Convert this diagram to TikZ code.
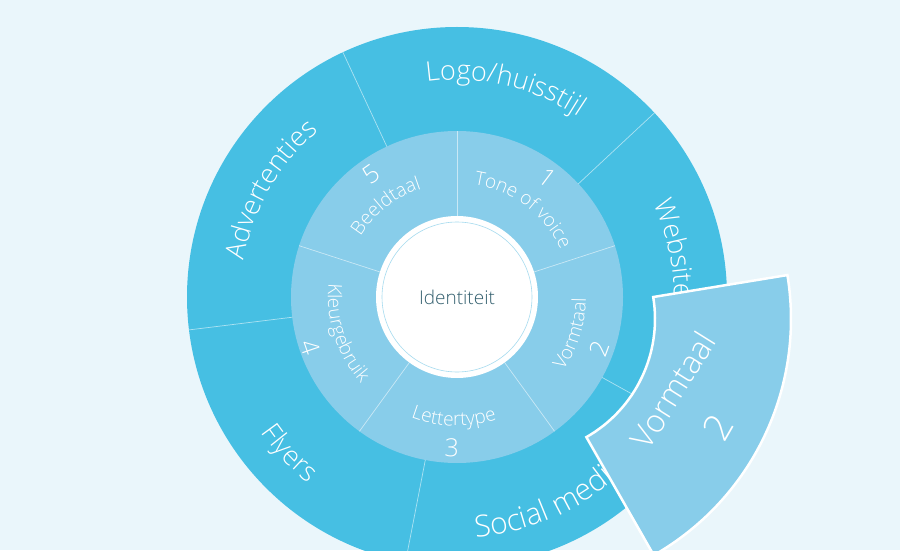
\documentclass[tikz,border=0pt]{standalone}
\usepackage{fontspec}
\IfFontExistsTF{Open Sans Light}{\setmainfont{Open Sans Light}}{\setmainfont{Open Sans}}
\usetikzlibrary{decorations.text}

\definecolor{pagebg}{HTML}{EAF6FB}
\definecolor{outerring}{HTML}{46BFE3}
\definecolor{middlering}{HTML}{88CDEA}
\definecolor{centertext}{HTML}{34606F}
\definecolor{thinring}{HTML}{A6DBEF}

\newcommand{\outerlabelfont}{\fontsize{27}{31}\selectfont}
\newcommand{\innerlabelfont}{\fontsize{19}{22}\selectfont}
\newcommand{\numberfont}{\fontsize{25}{28}\selectfont}
\newcommand{\centerfont}{\fontsize{19}{22}\selectfont}

\begin{document}
\begin{tikzpicture}[x=1pt, y=1pt,
    segline/.style={white, opacity=0.55, line width=0.7pt},
    arclabel/.style={decorate, decoration={text along path, text align=center,
        text color=white, text={#1}}},
    numlabel/.style={text=white, font=\numberfont, inner sep=0pt}]

    % Background of the picture
    \fill[pagebg] (0,0) rectangle (900,550);
    \useasboundingbox (0,0) rectangle (900,550);
    \clip (0,0) rectangle (900,550);

    % Define the center of the rings
    \coordinate (O) at (457,253);
    % Define the apex of the pulled-out segment
    \coordinate (P) at (519,231);

    % Draw the outer ring and the middle ring
    \fill[outerring] (O) circle[radius=270pt];
    \fill[middlering] (O) circle[radius=166pt];

    % Draw the borders between the outer segments
    \begin{scope}[shift={(O)}]
        \draw[segline] (115:166pt) -- (115:270pt);
        \draw[segline] (43:166pt) -- (43:270pt);
        \draw[segline] (-29:166pt) -- (-29:270pt);
        \draw[segline] (-101:166pt) -- (-101:270pt);
        \draw[segline] (187:166pt) -- (187:270pt);

        % Draw the borders between the middle segments
        \draw[segline] (90:81pt) -- (90:166pt);
        \draw[segline] (18:81pt) -- (18:166pt);
        \draw[segline] (-54:81pt) -- (-54:166pt);
        \draw[segline] (-126:81pt) -- (-126:166pt);
        \draw[segline] (162:81pt) -- (162:166pt);
    \end{scope}

    % Draw the white center with its thin inner circle
    \fill[white] (O) circle[radius=81pt];
    \draw[thinring, line width=0.6pt] (O) circle[radius=75pt];
    \node[font=\centerfont, text=centertext] (identiteit) at (O) {Identiteit};

    % Add the labels of the outer segments
    \begin{scope}[shift={(O)}]
        \path[arclabel={|\outerlabelfont|Logo/huisstijl}]
            (117:217pt) arc[start angle=117, end angle=37, radius=217pt];
        \path[arclabel={|\outerlabelfont|Advertenties}]
            (190:216pt) arc[start angle=190, end angle=110, radius=216pt];
        \path[arclabel={|\outerlabelfont|Website}]
            (52.5:217pt) arc[start angle=52.5, end angle=-27.5, radius=217pt];
        \path[arclabel={|\fontsize{30}{34}\selectfont|Social media}]
            (-105.5:241pt) arc[start angle=-105.5, end angle=-25.5, radius=241pt];
        \path[arclabel={|\outerlabelfont|Flyers}]
            (-177:238pt) arc[start angle=-177, end angle=-97, radius=238pt];

        % Add the labels of the middle segments
        \path[arclabel={|\innerlabelfont|Tone of voice}]
            (98:114pt) arc[start angle=98, end angle=8, radius=114pt];
        \path[arclabel={|\innerlabelfont|Beeldtaal}]
            (173:114pt) arc[start angle=173, end angle=83, radius=114pt];
        \path[arclabel={|\innerlabelfont|Vormtaal}]
            (-62.5:129pt) arc[start angle=-62.5, end angle=27.5, radius=129pt];
        \path[arclabel={|\innerlabelfont|Lettertype}]
            (-136.5:129pt) arc[start angle=-136.5, end angle=-46.5, radius=129pt];
        \path[arclabel={|\innerlabelfont|Kleurgebruik}]
            (153:129pt) arc[start angle=153, end angle=243, radius=129pt];

        % Add the numbers of the middle segments
        \node[numlabel, rotate=-37] (n1) at (53:150pt) {1};
        \node[numlabel, rotate=70] (n2) at (-20:152pt) {2};
        \node[numlabel, rotate=-2] (n3) at (-92:151pt) {3};
        \node[numlabel, rotate=-71] (n4) at (199:155pt) {4};
        \node[numlabel, rotate=35] (n5) at (125:150pt) {5};
    \end{scope}

    % Draw the pulled-out segment with its white border
    \begin{scope}[shift={(P)}]
        \filldraw[fill=middlering, draw=white, line width=2.5pt, line join=miter]
            (9.3:136pt) -- (9.3:272pt)
            arc[start angle=9.3, end angle=-60.3, radius=272pt]
            -- (-60.3:136pt)
            arc[start angle=-60.3, end angle=9.3, radius=136pt] -- cycle;
    \end{scope}

    % Add the labels of the pulled-out segment
    \node[text=white, font=\fontsize{32}{36}\selectfont, rotate=58] (popname) at (673,160) {Vormtaal};
    \node[text=white, font=\fontsize{38}{42}\selectfont, rotate=60] (popnum) at (718,123) {2};

\end{tikzpicture}
\end{document}
